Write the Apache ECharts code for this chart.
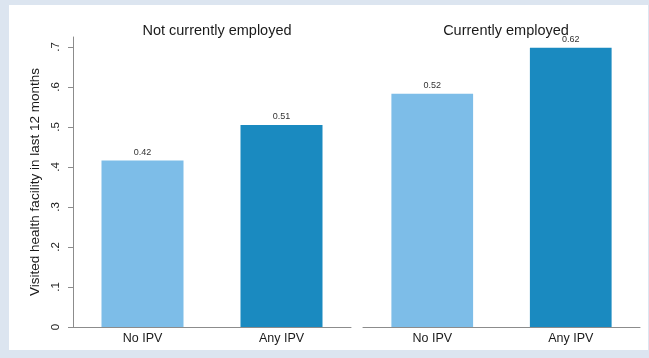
<!DOCTYPE html>
<html>
<head>
<meta charset="utf-8">
<script src="https://cdn.jsdelivr.net/npm/echarts@6/dist/echarts.min.js"></script>
<style>
html,body{margin:0;padding:0;background:#dce5f0;}
#c{width:649px;height:358px;}
</style>
</head>
<body>
<div id="c"></div>
<script>
// ---- data ----
const categories = ['No IPV', 'Any IPV'];
const panelTitles = ['Not currently employed', 'Currently employed'];
const notEmployedValues = [0.416, 0.505];
const employedValues = [0.583, 0.698];
const notEmployedLabels = ['0.42', '0.51'];
const employedLabels = ['0.52', '0.62'];
const yTicks = [0, 0.1, 0.2, 0.3, 0.4, 0.5, 0.6, 0.7];
const yTickLabels = ['0', '.1', '.2', '.3', '.4', '.5', '.6', '.7'];
const yAxisTitle = 'Visited health facility in last 12 months';
const barColors = ['#7dbde8', '#1a8ac0'];

const FONT = 'Liberation Sans, Arial, Helvetica, sans-serif';
const chart = echarts.init(document.getElementById('c'), null, {renderer: 'canvas'});

function xAxisFor(idx) {
  return {
    type: 'category', gridIndex: idx, data: categories,
    axisLine: {lineStyle: {color: '#8c8c8c', width: 1}},
    axisTick: {show: false},
    axisLabel: {fontFamily: FONT, fontSize: 12.5, color: '#1a1a1a', margin: 5}
  };
}
function barSeries(idx, values, labels) {
  return {
    type: 'bar', xAxisIndex: idx, yAxisIndex: idx,
    barWidth: '59%',
    data: values.map((v, i) => ({value: v, itemStyle: {color: barColors[i]}})),
    label: {
      show: true, position: 'top', distance: 4,
      fontFamily: FONT, fontSize: 9, color: '#333',
      formatter: p => labels[p.dataIndex]
    },
    silent: true, animation: false
  };
}

const titleStyle = {fontFamily: FONT, fontSize: 14.5, fontWeight: 'normal', color: '#1a1a1a'};
const option = {
  animation: false,
  backgroundColor: 'transparent',
  graphic: [{type: 'rect', shape: {x: 9, y: 5, width: 639, height: 345}, style: {fill: '#ffffff'}, z: -10}],
  title: [
    {text: panelTitles[0], left: 212, top: 18, textAlign: 'center', textStyle: titleStyle},
    {text: panelTitles[1], left: 501, top: 18, textAlign: 'center', textStyle: titleStyle}
  ],
  grid: [
    {left: 73, top: 37, width: 278, bottom: 31},
    {left: 363, top: 37, width: 277, bottom: 31}
  ],
  xAxis: [xAxisFor(0), xAxisFor(1)],
  yAxis: [
    {
      type: 'value', gridIndex: 0, min: 0, max: 0.725,
      name: yAxisTitle, nameLocation: 'middle', nameRotate: 90, nameGap: 31,
      nameTextStyle: {fontFamily: FONT, fontSize: 13.5, color: '#1a1a1a'},
      axisLine: {show: true, lineStyle: {color: '#8c8c8c', width: 1}},
      axisTick: {show: true, length: 5, customValues: yTicks, lineStyle: {color: '#8c8c8c'}},
      axisLabel: {rotate: 90, customValues: yTicks, margin: 11, fontFamily: FONT, fontSize: 11.5, color: '#1a1a1a',
        formatter: v => { const i = yTicks.findIndex(t => Math.abs(t - v) < 1e-9); return i >= 0 ? yTickLabels[i] : ''; }},
      splitLine: {show: false}
    },
    {
      type: 'value', gridIndex: 1, min: 0, max: 0.725, show: false,
      splitLine: {show: false}
    }
  ],
  series: [
    barSeries(0, notEmployedValues, notEmployedLabels),
    barSeries(1, employedValues, employedLabels)
  ]
};
chart.setOption(option);
</script>
</body>
</html>
